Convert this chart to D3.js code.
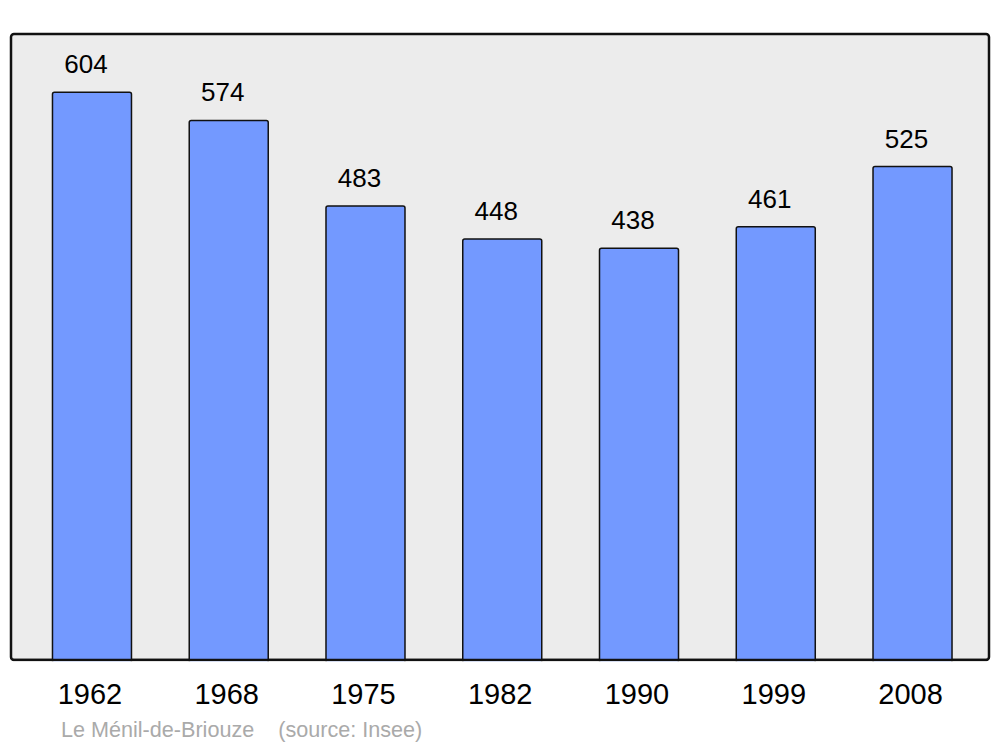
<!DOCTYPE html>
<html>
<head>
<meta charset="utf-8">
<script src="https://cdn.jsdelivr.net/npm/d3@7"></script>
<style>
  body { margin: 0; background: #fff; }
  text { font-family: "Liberation Sans", Arial, sans-serif; }
</style>
</head>
<body>
<script>
// population data
var years = ["1962", "1968", "1975", "1982", "1990", "1999", "2008"]
var population = [604, 574, 483, 448, 438, 461, 525]
var yMax = 666
var caption = "Le Ménil-de-Briouze    (source: Insee)"

var width = 1000, height = 747
var frame = {left: 11, top: 34, right: 989, bottom: 660}

var svg = d3.select("body").append("svg")
    .attr("width", width)
    .attr("height", height)

// frame / background
svg.append("rect")
    .attr("x", frame.left)
    .attr("y", frame.top)
    .attr("width", frame.right - frame.left)
    .attr("height", frame.bottom - frame.top)
    .attr("rx", 3)
    .attr("fill", "#ececec")
    .attr("stroke", "#111")
    .attr("stroke-width", 2.5)

var x = d3.scalePoint().domain(years).range([23.6, 980.9]).padding(0.5)
var y = d3.scaleLinear().domain([0, yMax]).range([frame.bottom, frame.top])
var barW = 79

svg.selectAll("rect.bar").data(population).enter()
    .append("rect")
    .attr("class", "bar")
    .attr("x", function (d, i) { return x(years[i]) - barW / 2 })
    .attr("y", function (d) { return y(d) })
    .attr("width", barW)
    .attr("height", function (d) { return frame.bottom - y(d) + 3 })
    .attr("rx", 2)
    .attr("fill", "#7399ff")
    .attr("stroke", "#111")
    .attr("stroke-width", 1.5)

// redraw bottom edge of frame over bars
svg.append("line")
    .attr("x1", frame.left + 2).attr("x2", frame.right - 2)
    .attr("y1", frame.bottom).attr("y2", frame.bottom)
    .attr("stroke", "#111").attr("stroke-width", 2.5)
// mask overflow below frame
svg.append("rect")
    .attr("x", frame.left + 2).attr("y", frame.bottom + 1.25)
    .attr("width", frame.right - frame.left - 4).attr("height", 4)
    .attr("fill", "#fff")

// value labels
svg.selectAll("text.val").data(population).enter()
    .append("text")
    .attr("class", "val")
    .attr("x", function (d, i) { return x(years[i]) - 6 })
    .attr("y", function (d) { return y(d) - 19 })
    .attr("text-anchor", "middle")
    .attr("font-size", 26)
    .attr("fill", "#000")
    .text(function (d) { return d })

// year labels
svg.selectAll("text.year").data(years).enter()
    .append("text")
    .attr("class", "year")
    .attr("x", function (d) { return x(d) - 2 })
    .attr("y", 704)
    .attr("text-anchor", "middle")
    .attr("font-size", 29)
    .attr("fill", "#000")
    .text(function (d) { return d })

svg.append("text")
    .attr("x", 61)
    .attr("y", 737)
    .attr("font-size", 21.6)
    .attr("fill", "#aaa")
    .attr("xml:space", "preserve")
    .style("white-space", "pre")
    .text(caption)
</script>
</body>
</html>
